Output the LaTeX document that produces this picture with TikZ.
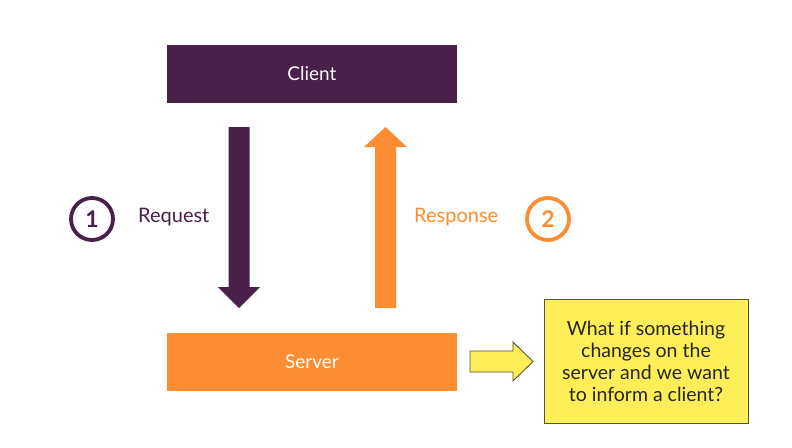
\documentclass[tikz,border=0pt]{standalone}
\usepackage{fontspec}
\setmainfont{Lato}
\definecolor{cpurple}{HTML}{4A1F49}
\definecolor{corange}{HTML}{FD8D32}
\definecolor{cyellow}{HTML}{FFEE57}
\definecolor{cborder}{HTML}{55543A}
\tikzset{
  boxnode/.style={minimum width=290pt, minimum height=58pt, inner sep=0pt, text=white, font=\fontsize{19}{22}\selectfont},
  numcircle/.style={circle, line width=3.8pt, minimum size=42pt, inner sep=0pt, font=\fontsize{23}{24}\selectfont\bfseries},
  lbl/.style={font=\fontsize{20}{22}\selectfont, inner sep=0pt},
}
\begin{document}
\begin{tikzpicture}[x=1pt,y=-1pt]
\useasboundingbox (0,0) rectangle (792,447);
\fill[white] (0,0) rectangle (792,447);
% boxes
\node[boxnode, fill=cpurple] (client) at (312,73.5) {Client};
\node[boxnode, fill=corange] (server) at (312,361.5) {Server};
% request arrow (down)
\coordinate (reqtop) at (239,127);
\coordinate (reqtip) at (239,308);
\fill[cpurple] ([xshift=-10.5pt]reqtop) -- ([xshift=10.5pt]reqtop)
  -- ([xshift=10.5pt,yshift=21pt]reqtip) -- ([xshift=21pt,yshift=21pt]reqtip)
  -- (reqtip) -- ([xshift=-21pt,yshift=21pt]reqtip)
  -- ([xshift=-10.5pt,yshift=21pt]reqtip) -- cycle;
% response arrow (up)
\coordinate (resbot) at (385.5,308);
\coordinate (restip) at (385.5,127);
\fill[corange] ([xshift=-10.5pt]resbot) -- ([xshift=10.5pt]resbot)
  -- ([xshift=10.5pt,yshift=-20pt]restip) -- ([xshift=21.5pt,yshift=-20pt]restip)
  -- (restip) -- ([xshift=-21.5pt,yshift=-20pt]restip)
  -- ([xshift=-10.5pt,yshift=-20pt]restip) -- cycle;
% labels
\node[numcircle, draw=cpurple, text=cpurple] (one) at (92,219) {1};
\node[lbl, text=cpurple, anchor=west] (req) at (138,217) {Request};
\node[lbl, text=corange, anchor=west] (res) at (414,217) {Response};
\node[numcircle, draw=corange, text=corange] (two) at (548,219) {2};
% question box
\node[draw=cborder, line width=1pt, fill=cyellow, minimum width=204pt, minimum height=124pt,
  align=center, font=\fontsize{19.5}{22}\selectfont, text=black!85] (q) at (646,361)
  {What if something\\changes on the\\server and we want\\to inform a client?};
% yellow arrow
\coordinate (ya) at (470,361.5);
\coordinate (yb) at (533,361.5);
\filldraw[fill=cyellow, draw=cborder, line width=0.9pt, line join=miter]
  ([yshift=-10.5pt]ya) -- ([xshift=-20pt,yshift=-10.5pt]yb) -- ([xshift=-20pt,yshift=-19.5pt]yb)
  -- (yb) -- ([xshift=-20pt,yshift=19.5pt]yb) -- ([xshift=-20pt,yshift=10.5pt]yb)
  -- ([yshift=10.5pt]ya) -- cycle;
\end{tikzpicture}
\end{document}
